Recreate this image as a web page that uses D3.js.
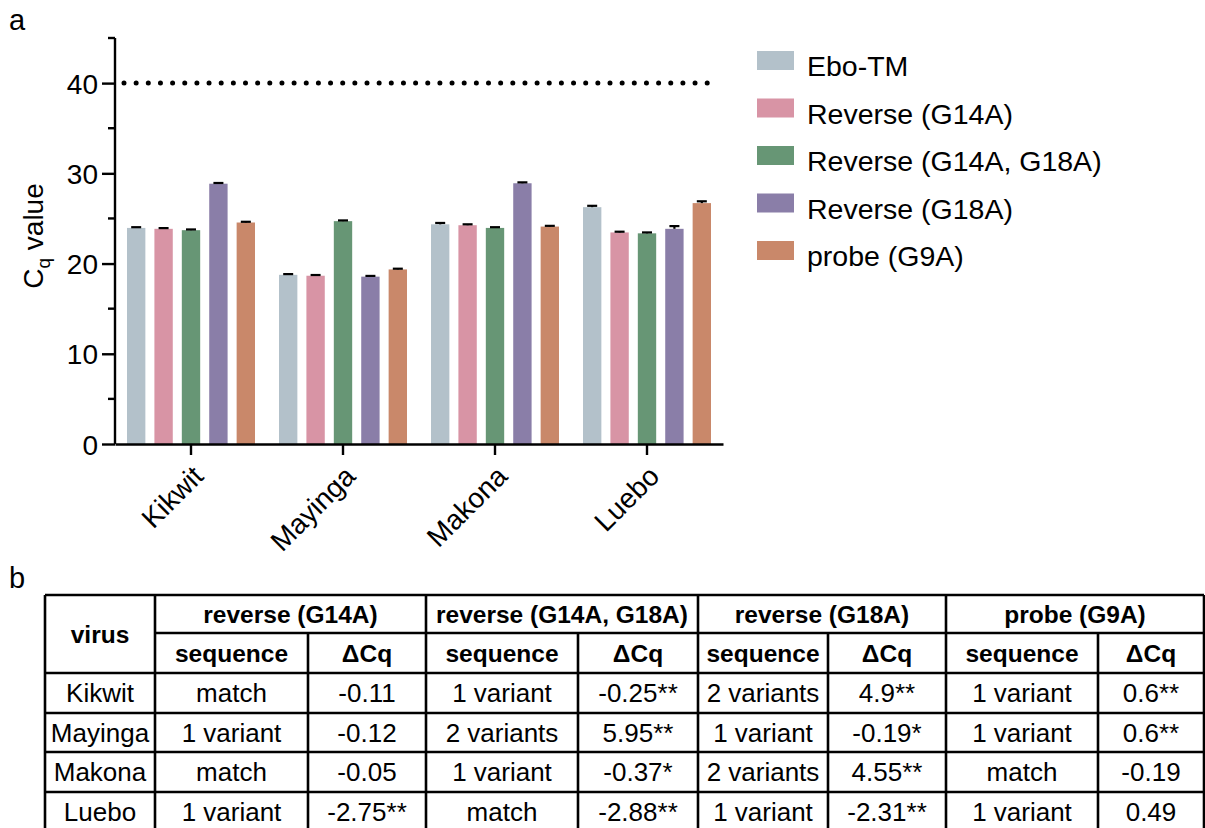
<!DOCTYPE html>
<html>
<head>
<meta charset="utf-8">
<script src="https://cdn.jsdelivr.net/npm/d3@7"></script>
<style>
  body { margin: 0; background: #fff; }
  svg text { font-family: "Liberation Sans", Arial, sans-serif; fill: #000; }
</style>
</head>
<body>
<div id="content"></div>
<script>
// panel a data
var viruses = ["Kikwit", "Mayinga", "Makona", "Luebo"];
var assays = ["Ebo-TM", "Reverse (G14A)", "Reverse (G14A, G18A)", "Reverse (G18A)", "probe (G9A)"];
var colors = ["#b3c1ca", "#d894a5", "#679675", "#8a7ea8", "#c9886a"];
var ebo = [23.95, 18.75, 24.35, 26.25];
var revG14A = [23.85, 18.65, 24.25, 23.45];
var revG14AG18A = [23.7, 24.7, 23.95, 23.35];
var revG18A = [28.85, 18.55, 28.9, 23.85];
var probeG9A = [24.55, 19.35, 24.1, 26.7];
var sdEbo = [0.08, 0.08, 0.15, 0.15];
var sdG14A = [0.08, 0.08, 0.1, 0.08];
var sdG14AG18A = [0.08, 0.08, 0.08, 0.1];
var sdG18A = [0.08, 0.08, 0.1, 0.3];
var sdG9A = [0.08, 0.08, 0.08, 0.2];
var cutoff = 40;
var yTicks = [0, 10, 20, 30, 40];

// panel b data
var groupHeaders = ["reverse (G14A)", "reverse (G14A, G18A)", "reverse (G18A)", "probe (G9A)"];
var subHeaders = ["sequence", "\u0394Cq"];
var seqG14A = ["match", "1 variant", "match", "1 variant"];
var dcqG14A = ["-0.11", "-0.12", "-0.05", "-2.75**"];
var seqG14AG18A = ["1 variant", "2 variants", "1 variant", "match"];
var dcqG14AG18A = ["-0.25**", "5.95**", "-0.37*", "-2.88**"];
var seqG18A = ["2 variants", "1 variant", "2 variants", "1 variant"];
var dcqG18A = ["4.9**", "-0.19*", "4.55**", "-2.31**"];
var seqG9A = ["1 variant", "1 variant", "match", "1 variant"];
var dcqG9A = ["0.6**", "0.6**", "-0.19", "0.49"];

var means = [ebo, revG14A, revG14AG18A, revG18A, probeG9A];
var sds = [sdEbo, sdG14A, sdG14AG18A, sdG18A, sdG9A];

var svg = d3.select("#content")
  .append("svg")
  .attr("width", 1205)
  .attr("height", 828);

// panel labels
svg.append("text").attr("x", 9).attr("y", 30).style("font-size", "29px").text("a");
svg.append("text").attr("x", 9).attr("y", 588).style("font-size", "29px").text("b");

// ---------------- panel a ----------------
var x0 = d3.scaleBand().domain(viruses).range([115, 723]).padding(0);
var x1 = d3.scaleBand().domain(assays).range([12, 152 - 12]).paddingInner(0.33).paddingOuter(0);
var y = d3.scaleLinear().domain([0, 45]).range([444, 38]);

var barData = [];
viruses.forEach(function(v, i) {
  assays.forEach(function(a, j) {
    barData.push({virus: v, assay: a, value: means[j][i], sd: sds[j][i], color: colors[j]});
  });
});

var bars = svg.append("g");
bars.selectAll("rect")
  .data(barData)
  .enter().append("rect")
  .attr("x", d => x0(d.virus) + x1(d.assay))
  .attr("y", d => y(d.value))
  .attr("width", x1.bandwidth())
  .attr("height", d => y(0) - y(d.value))
  .attr("fill", d => d.color);

// error bars (upper only)
var errs = svg.append("g").attr("stroke", "#000").attr("stroke-width", 2.2);
errs.selectAll("line.v")
  .data(barData)
  .enter().append("line")
  .attr("x1", d => x0(d.virus) + x1(d.assay) + x1.bandwidth() / 2)
  .attr("x2", d => x0(d.virus) + x1(d.assay) + x1.bandwidth() / 2)
  .attr("y1", d => y(d.value))
  .attr("y2", d => y(d.value + d.sd));
errs.selectAll("line.c")
  .data(barData)
  .enter().append("line")
  .attr("x1", d => x0(d.virus) + x1(d.assay) + x1.bandwidth() / 2 - 5)
  .attr("x2", d => x0(d.virus) + x1(d.assay) + x1.bandwidth() / 2 + 5)
  .attr("y1", d => y(d.value + d.sd))
  .attr("y2", d => y(d.value + d.sd));

// dotted cutoff line
svg.append("line")
  .attr("x1", 124).attr("x2", 712)
  .attr("y1", y(cutoff)).attr("y2", y(cutoff))
  .attr("stroke", "#000")
  .attr("stroke-width", 5)
  .attr("stroke-linecap", "round")
  .attr("stroke-dasharray", "0 12.15");

// y axis
var yAxis = d3.axisLeft(y).tickValues(yTicks).tickSize(13).tickPadding(4).tickSizeOuter(0);
var gy = svg.append("g").attr("transform", "translate(115,0)").call(yAxis);
gy.selectAll(".tick text").style("font-size", "28px").attr("dy", "0.36em").style("font-family", "'Liberation Sans', Arial, sans-serif");
gy.selectAll("line, path").attr("stroke", "#000").attr("stroke-width", 2.4);
// minor ticks
gy.selectAll(".minor")
  .data([5, 15, 25, 35, 45])
  .enter().append("line")
  .attr("x1", -7).attr("x2", 0)
  .attr("y1", d => y(d)).attr("y2", d => y(d))
  .attr("stroke", "#000").attr("stroke-width", 2.4);
gy.select(".domain").attr("d", "M0," + y(45) + "V" + y(0));

// x axis
var xAxis = d3.axisBottom(x0).tickSize(11).tickSizeOuter(0).tickFormat("");
var gx = svg.append("g").attr("transform", "translate(0,444)").call(xAxis);
gx.selectAll("line, path").attr("stroke", "#000").attr("stroke-width", 2.4);
gx.selectAll(".xlab")
  .data(viruses)
  .enter().append("text")
  .attr("text-anchor", "end")
  .attr("transform", d => "translate(" + (x0(d) + x0.bandwidth() / 2 + 14) + ",34) rotate(-45)")
  .style("font-size", "28px")
  .text(d => d);

// y label
var ylab = svg.append("text")
  .attr("transform", "translate(43,236) rotate(-90)")
  .attr("text-anchor", "middle")
  .style("font-size", "28px");
ylab.append("tspan").text("C");
ylab.append("tspan").attr("dy", 7).style("font-size", "19px").text("q");
ylab.append("tspan").attr("dy", -7).text(" value");

// legend
var legend = svg.append("g").selectAll("g")
  .data(assays)
  .enter().append("g")
  .attr("transform", (d, i) => "translate(757," + (51 + i * 47.5) + ")");
legend.append("rect").attr("width", 37).attr("height", 19).attr("fill", (d, i) => colors[i]);
legend.append("text").attr("x", 50).attr("y", 25).style("font-size", "28.5px").text(d => d);

// ---------------- panel b ----------------
var colEdges = [45, 155, 308, 426, 578, 698, 828, 946, 1098, 1204];
var rowEdges = [595, 633, 673, 713, 752, 792, 831];
var table = svg.append("g");
var body = [
  [seqG14A, dcqG14A], [seqG14AG18A, dcqG14AG18A], [seqG18A, dcqG18A], [seqG9A, dcqG9A]
];

function cellText(c0, c1, r0, r1, txt, bold) {
  table.append("text")
    .attr("x", (colEdges[c0] + colEdges[c1]) / 2)
    .attr("y", (rowEdges[r0] + rowEdges[r1]) / 2)
    .attr("dy", "0.36em")
    .attr("text-anchor", "middle")
    .style("font-size", bold ? "24.5px" : "26px")
    .style("font-weight", bold ? "bold" : "normal")
    .text(txt);
}

cellText(0, 1, 0, 2, "virus", true);
groupHeaders.forEach(function(h, g) {
  cellText(1 + g * 2, 3 + g * 2, 0, 1, h, true);
  subHeaders.forEach(function(s, k) {
    cellText(1 + g * 2 + k, 2 + g * 2 + k, 1, 2, s, true);
  });
});
viruses.forEach(function(v, r) {
  cellText(0, 1, 2 + r, 3 + r, v, false);
  body.forEach(function(pair, g) {
    cellText(1 + g * 2, 2 + g * 2, 2 + r, 3 + r, pair[0][r], false);
    cellText(2 + g * 2, 3 + g * 2, 2 + r, 3 + r, pair[1][r], false);
  });
});

var gridLines = table.append("g").attr("stroke", "#000").attr("stroke-width", 2.6);
// horizontal rules
rowEdges.forEach(function(ry, i) {
  if (i === rowEdges.length - 1) return;
  gridLines.append("line")
    .attr("x1", i === 1 ? colEdges[1] : colEdges[0]).attr("x2", colEdges[colEdges.length - 1])
    .attr("y1", ry).attr("y2", ry);
});
// vertical rules
colEdges.forEach(function(cx, i) {
  var inner = i % 2 === 0 && i > 0 && i < colEdges.length - 1;
  gridLines.append("line")
    .attr("x1", cx).attr("x2", cx)
    .attr("y1", inner ? rowEdges[1] : rowEdges[0]).attr("y2", 828);
});
</script>
</body>
</html>
